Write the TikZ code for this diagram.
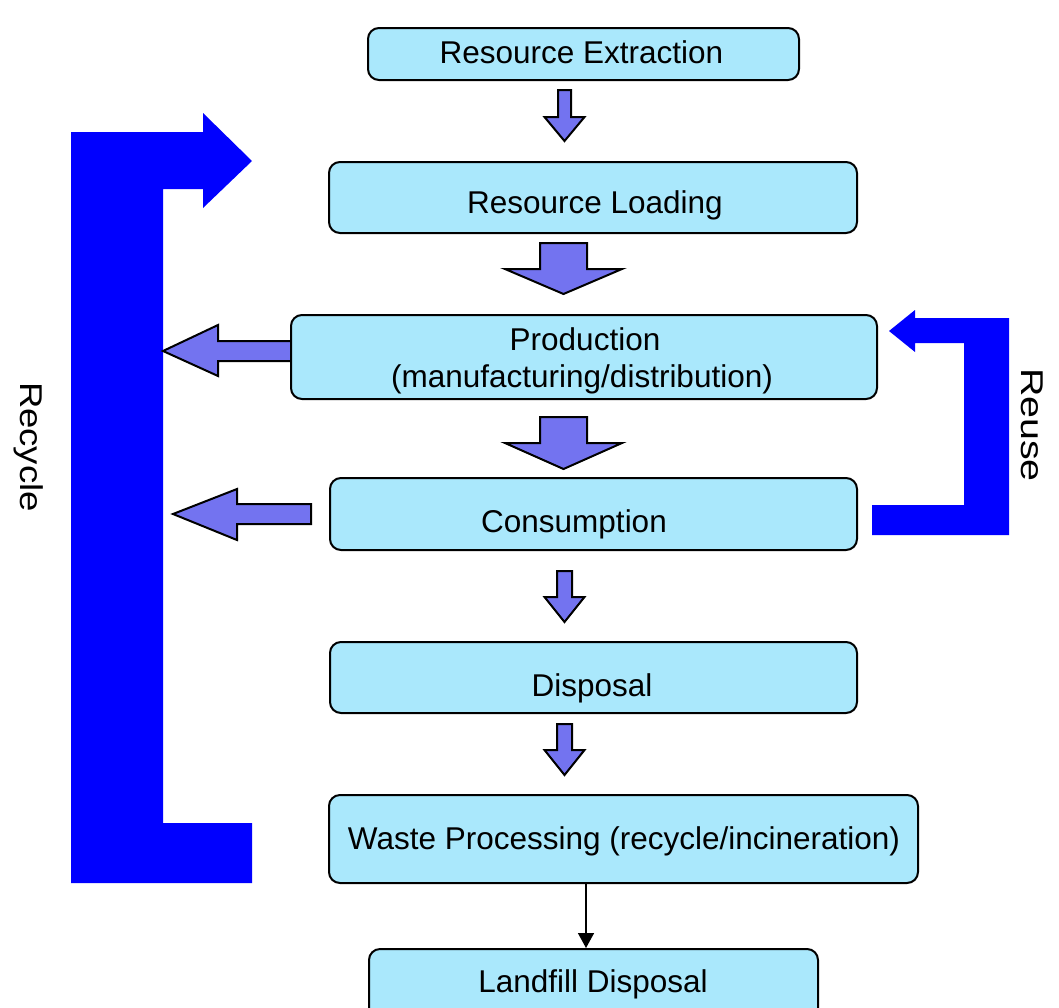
\documentclass[tikz,border=0pt]{standalone}
\usepackage{fontspec}
\setmainfont{Liberation Sans}
\usetikzlibrary{arrows.meta,calc}
\definecolor{boxfill}{RGB}{170,232,252}
\definecolor{arrfill}{RGB}{115,115,240}
\definecolor{bigblue}{RGB}{0,0,255}
\tikzset{
 box/.style={draw=black, line width=2pt, rounded corners=11pt, fill=boxfill, inner sep=0pt},
 lbl/.style={font=\fontsize{31.5}{37}\selectfont, anchor=base, inner sep=0pt},
 blockarrow/.style={draw=black, line width=2pt, fill=arrfill, line join=miter},
 bigarrow/.style={fill=bigblue},
 side/.style={font=\fontsize{31.5}{37}\selectfont, rotate=-90, inner sep=0pt},
 thinarrow/.style={line width=1.5pt, -{Triangle[width=16pt,length=15pt]}}
}
\newcommand{\dnarrow}[6]{\draw[blockarrow] ({#1-#5},#2) -- ({#1+#5},#2) -- ({#1+#5},#3) -- ({#1+#6},#3) -- (#1,#4) -- ({#1-#6},#3) -- ({#1-#5},#3) -- cycle;}
\begin{document}
\begin{tikzpicture}[x=1pt,y=-1pt]
\useasboundingbox (0,0) rectangle (1059,1007);
\clip (0,0) rectangle (1059,1007);
% big recycle arrow
\fill[bigarrow] (71,883) -- (71,132) -- (203,132) -- (203,113) -- (252,161) -- (203,208) -- (203,189) -- (163,189) -- (163,823) -- (252,823) -- (252,883) -- cycle;
% big reuse arrow
\fill[bigarrow] (872,505) -- (964,505) -- (964,343) -- (915,343) -- (915,352) -- (889,331) -- (915,310) -- (915,318) -- (1009,318) -- (1009,535) -- (872,535) -- cycle;
% side block arrows
\draw[blockarrow] (292,341) -- (218,341) -- (218,325) -- (163,351) -- (218,376) -- (218,361) -- (292,361) -- cycle;
\draw[blockarrow] (311,504) -- (237,504) -- (237,489) -- (173,514) -- (237,540) -- (237,524) -- (311,524) -- cycle;
% boxes
\node[box, minimum width=431pt, minimum height=52pt] (ext) at (583.5,54) {};
\node[box, minimum width=528pt, minimum height=71pt] (load) at (593,197.5) {};
\node[box, minimum width=586pt, minimum height=84pt] (prod) at (584,357) {};
\node[box, minimum width=527pt, minimum height=72pt] (cons) at (593.5,514) {};
\node[box, minimum width=527pt, minimum height=71pt] (disp) at (593.5,677.5) {};
\node[box, minimum width=589pt, minimum height=88pt] (waste) at (623.5,839) {};
\node[box, minimum width=449pt, minimum height=81pt] (land) at (593.5,989.5) {};
% labels
\node[lbl] (extt) at (581.5,63.3) {Resource Extraction};
\node[lbl] (loadt) at (595,213.3) {Resource Loading};
\node[lbl] (prodt1) at (585,350) {Production};
\node[lbl] (prodt2) at (582,387) {(manufacturing/distribution)};
\node[lbl] (const) at (574,532) {Consumption};
\node[lbl] (dispt) at (592,696) {Disposal};
\node[lbl] (wastet) at (624,849) {Waste Processing (recycle/incineration)};
\node[lbl] (landt) at (593,992) {Landfill Disposal};
\node[side] (recyc) at (29,447) {\scalebox{1.16}[1]{Recycle}};
\node[side] (reuse) at (1032.5,425) {\scalebox{1.25}[1]{Reuse}};
% down block arrows
\dnarrow{564.5}{90}{117}{141}{6.5}{20}
\dnarrow{563.5}{243}{269}{294}{23.5}{58.5}
\dnarrow{563.5}{417}{443}{469}{23.5}{58.5}
\dnarrow{564.5}{571}{597}{622}{7.5}{20}
\dnarrow{564.5}{724}{750}{775}{7.5}{20}
% thin arrow
\coordinate (ax) at (586,0);
\draw[thinarrow] (waste.south -| ax) -- (land.north -| ax);
\end{tikzpicture}
\end{document}
